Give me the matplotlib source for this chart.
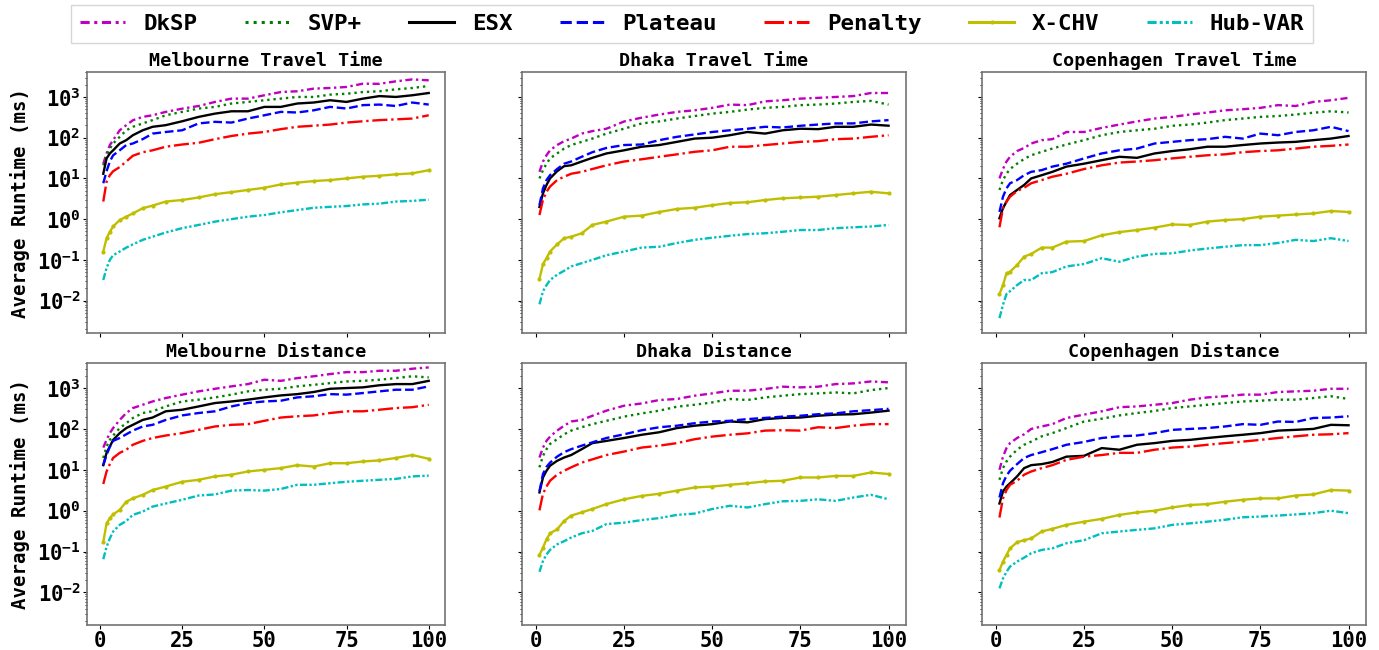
import numpy as np
import matplotlib
matplotlib.use('Agg')
import matplotlib.pyplot as plt

plt.rcParams['font.family'] = 'DejaVu Sans Mono'
plt.rcParams['font.weight'] = 'bold'
plt.rcParams['mathtext.default'] = 'regular'

# query sizes (a subset of the 1..100 points)
x_points = [1, 2, 3, 4, 6, 8, 10, 13, 16, 20, 25, 30, 35, 40, 45, 50, 55, 60, 65, 70, 75, 80, 85, 90, 95, 100]

methods = ['DkSP', 'SVP+', 'ESX', 'Plateau', 'Penalty', 'X-CHV', 'Hub-VAR']
titles = ['Melbourne Travel Time', 'Dhaka Travel Time', 'Copenhagen Travel Time',
          'Melbourne Distance', 'Dhaka Distance', 'Copenhagen Distance']

# Melbourne travel time (ms)
mel_tt_dksp = [23, 41, 66, 87, 152, 203, 268, 324, 355, 430, 516, 600, 755, 910, 910, 1100, 1320, 1380, 1600, 1660, 1760, 2120, 2100, 2420, 2700, 2560]
mel_tt_svp = [21, 37, 54, 72, 105, 152, 185, 224, 270, 355, 430, 520, 570, 690, 755, 830, 910, 1000, 1000, 1140, 1200, 1320, 1380, 1540, 1660, 1860]
mel_tt_esx = [13, 31, 41, 49, 72, 87, 115, 152, 185, 203, 253, 324, 390, 445, 445, 570, 570, 690, 730, 830, 755, 910, 1050, 1000, 1100, 1250]
mel_tt_plateau = [7.6, 15, 26, 37, 49, 66, 72, 92, 126, 138, 152, 224, 245, 235, 295, 355, 430, 415, 470, 570, 520, 630, 650, 600, 730, 650]
mel_tt_penalty = [2.7, 8.3, 12, 15, 19, 26, 36, 44, 49, 60, 68, 75, 92, 110, 126, 138, 162, 185, 197, 210, 235, 253, 270, 282, 295, 355]
mel_tt_xchv = [0.16, 0.34, 0.49, 0.66, 0.95, 1.15, 1.38, 1.85, 2.15, 2.7, 2.95, 3.4, 4.1, 4.6, 5.2, 5.9, 7.1, 7.9, 8.6, 9.1, 10, 11, 11.6, 12.6, 13.3, 15.9]
mel_tt_hub = [0.032, 0.063, 0.1, 0.13, 0.16, 0.2, 0.24, 0.31, 0.37, 0.47, 0.6, 0.72, 0.87, 1.0, 1.15, 1.26, 1.47, 1.67, 1.9, 2.0, 2.1, 2.3, 2.4, 2.7, 2.8, 3.0]

# Dhaka travel time (ms)
dha_tt_dksp = [14.5, 26, 37, 49, 66, 82, 95, 126, 145, 166, 250, 310, 370, 430, 470, 540, 650, 630, 780, 830, 910, 950, 1000, 1050, 1250, 1250]
dha_tt_svp = [10, 16, 23, 31, 41, 54, 66, 79, 95, 126, 166, 224, 251, 295, 340, 390, 430, 490, 540, 570, 630, 650, 690, 755, 800, 650]
dha_tt_esx = [2.0, 4.3, 6.9, 10, 15, 20, 21, 26, 32, 41, 49, 60, 66, 79, 95, 100, 115, 138, 126, 152, 166, 162, 185, 185, 210, 197]
dha_tt_plateau = [2.2, 5.7, 9.1, 12, 17, 23, 26, 34, 44, 56, 66, 68, 87, 105, 120, 138, 152, 166, 185, 178, 196, 210, 224, 224, 251, 270]
dha_tt_penalty = [1.26, 3.0, 4.7, 6.3, 9.1, 11, 13, 14.5, 17, 21, 26, 29.5, 34, 39, 45, 49, 60, 60, 66, 72, 79, 82, 92, 95, 105, 115]
dha_tt_xchv = [0.034, 0.079, 0.11, 0.16, 0.24, 0.34, 0.37, 0.45, 0.72, 0.87, 1.15, 1.22, 1.5, 1.78, 1.9, 2.2, 2.5, 2.6, 2.95, 3.25, 3.4, 3.55, 3.9, 4.3, 4.7, 4.3]
dha_tt_hub = [0.0081, 0.017, 0.024, 0.032, 0.043, 0.054, 0.069, 0.083, 0.1, 0.13, 0.16, 0.2, 0.21, 0.26, 0.31, 0.35, 0.39, 0.43, 0.45, 0.49, 0.54, 0.54, 0.6, 0.63, 0.66, 0.72]

# Copenhagen travel time (ms)
cph_tt_dksp = [10, 17, 26, 34, 47, 56, 72, 87, 92, 138, 138, 174, 210, 251, 295, 324, 370, 415, 470, 500, 540, 630, 600, 755, 830, 950]
cph_tt_svp = [5.2, 9.1, 13, 17, 23, 30, 37, 45, 54, 68, 87, 115, 138, 152, 166, 196, 210, 235, 270, 295, 324, 340, 370, 410, 445, 415]
cph_tt_esx = [1.05, 1.85, 2.7, 3.9, 5.2, 6.9, 10, 12, 14.5, 19.5, 23, 28, 34, 32, 41, 47, 52, 60, 60, 66, 72, 76, 79, 87, 95, 110]
cph_tt_plateau = [1.5, 3.55, 5.7, 7.6, 9.1, 12, 14.5, 16, 19.5, 23, 31, 41, 49, 54, 72, 79, 87, 92, 105, 95, 126, 115, 138, 152, 185, 145]
cph_tt_penalty = [0.63, 1.85, 2.7, 3.55, 4.9, 5.9, 7.6, 9.1, 11, 13, 17, 21, 24.5, 26, 28, 31, 34, 37, 39, 44, 47, 49, 54, 60, 63, 68]
cph_tt_xchv = [0.0145, 0.024, 0.047, 0.051, 0.075, 0.12, 0.14, 0.2, 0.2, 0.28, 0.29, 0.4, 0.48, 0.54, 0.62, 0.74, 0.72, 0.87, 0.95, 1.0, 1.15, 1.22, 1.3, 1.38, 1.58, 1.5]
cph_tt_hub = [0.0037, 0.0079, 0.0145, 0.017, 0.024, 0.032, 0.032, 0.047, 0.05, 0.069, 0.079, 0.11, 0.09, 0.12, 0.14, 0.145, 0.17, 0.19, 0.21, 0.23, 0.23, 0.26, 0.31, 0.29, 0.34, 0.29]

# Melbourne distance (ms)
mel_d_dksp = [35, 54, 79, 105, 166, 245, 324, 390, 470, 570, 690, 830, 960, 1100, 1250, 1600, 1500, 1750, 1940, 2200, 2450, 2450, 2650, 2650, 2970, 3200]
mel_d_svp = [19.5, 37, 54, 69, 105, 138, 185, 245, 270, 355, 470, 520, 590, 690, 830, 910, 960, 1100, 1200, 1320, 1450, 1500, 1600, 1750, 1940, 1820]
mel_d_esx = [13, 26, 37, 54, 79, 105, 126, 166, 190, 270, 295, 355, 430, 470, 520, 590, 660, 710, 800, 960, 1000, 1040, 1170, 1250, 1250, 1500]
mel_d_plateau = [13, 23, 37, 51, 60, 74, 91, 115, 126, 166, 214, 245, 270, 355, 430, 470, 490, 590, 630, 710, 690, 755, 830, 910, 910, 1100]
mel_d_penalty = [4.5, 9.1, 13.8, 19.5, 26, 31, 41, 51, 60, 69, 79, 95, 115, 126, 131, 158, 190, 204, 214, 245, 270, 270, 295, 324, 340, 390]
mel_d_xchv = [0.17, 0.49, 0.66, 0.81, 1.05, 1.66, 2.0, 2.45, 3.2, 3.9, 5.1, 5.7, 6.9, 7.6, 9.1, 10, 11, 13, 12, 14.5, 14.5, 16, 17, 19.5, 23, 18.6]
mel_d_hub = [0.065, 0.13, 0.21, 0.31, 0.45, 0.56, 0.79, 0.95, 1.26, 1.5, 1.85, 2.35, 2.5, 3.1, 3.2, 3.1, 3.4, 4.3, 4.3, 4.7, 5.1, 5.4, 5.7, 6.0, 6.9, 7.2]

# Dhaka distance (ms)
dha_d_dksp = [20, 35, 51, 65, 91, 120, 152, 166, 210, 280, 370, 420, 510, 540, 650, 740, 860, 860, 950, 1080, 1040, 1080, 1250, 1300, 1450, 1380]
dha_d_svp = [11.5, 22, 32, 43, 56, 74, 91, 110, 131, 158, 200, 240, 280, 350, 390, 445, 540, 510, 590, 650, 710, 740, 780, 740, 890, 1000]
dha_d_esx = [2.8, 6.5, 9.5, 12.6, 16.6, 20, 23, 32, 45, 51, 60, 72, 83, 105, 120, 131, 152, 145, 174, 186, 190, 210, 224, 229, 251, 280]
dha_d_plateau = [3.0, 7.9, 11.8, 15, 21, 27, 32, 39, 47, 60, 74, 93, 110, 120, 138, 152, 158, 174, 186, 200, 210, 229, 240, 270, 288, 310]
dha_d_penalty = [1.02, 2.6, 3.9, 5.4, 7.6, 9.5, 11.5, 15, 18, 23, 28, 35, 39, 45, 56, 65, 72, 78, 91, 93, 91, 110, 105, 120, 131, 131]
dha_d_xchv = [0.083, 0.125, 0.2, 0.28, 0.35, 0.56, 0.76, 0.91, 1.1, 1.45, 1.9, 2.3, 2.6, 3.1, 3.7, 3.9, 4.3, 4.7, 5.2, 5.4, 6.5, 6.5, 7.1, 7.1, 8.6, 7.9]
dha_d_hub = [0.032, 0.059, 0.085, 0.11, 0.15, 0.18, 0.22, 0.28, 0.32, 0.47, 0.51, 0.59, 0.66, 0.79, 0.85, 1.1, 1.32, 1.2, 1.45, 1.7, 1.74, 1.9, 1.74, 2.1, 2.45, 1.9]

# Copenhagen distance (ms)
cph_d_dksp = [10, 21, 34, 45, 60, 74, 100, 115, 131, 185, 224, 270, 340, 355, 390, 430, 520, 590, 630, 690, 690, 800, 830, 860, 960, 960]
cph_d_svp = [5.7, 11, 16, 21, 31, 41, 49, 66, 79, 105, 152, 178, 214, 245, 275, 324, 355, 390, 430, 470, 490, 520, 520, 570, 630, 540]
cph_d_esx = [1.5, 2.95, 3.9, 4.7, 6.9, 11, 13, 13.8, 15.5, 21, 22, 34, 31, 41, 45, 51, 54, 60, 66, 72, 79, 91, 95, 100, 126, 123]
cph_d_plateau = [2.1, 4.7, 7.2, 9.5, 13.8, 19.5, 23, 27, 32, 41, 48, 60, 66, 69, 79, 95, 100, 105, 115, 131, 126, 152, 148, 185, 190, 204]
cph_d_penalty = [0.68, 2.0, 3.2, 4.3, 5.4, 7.6, 9.1, 11, 13, 17.5, 21, 23, 26, 26, 31, 35, 37, 41, 45, 49, 54, 60, 66, 72, 74, 79]
cph_d_xchv = [0.035, 0.057, 0.083, 0.12, 0.17, 0.19, 0.21, 0.31, 0.36, 0.45, 0.54, 0.63, 0.79, 0.91, 1.0, 1.2, 1.38, 1.45, 1.66, 1.85, 2.0, 2.0, 2.35, 2.5, 3.2, 3.1]
cph_d_hub = [0.0126, 0.022, 0.032, 0.043, 0.057, 0.071, 0.091, 0.11, 0.12, 0.16, 0.19, 0.28, 0.31, 0.34, 0.37, 0.45, 0.49, 0.54, 0.6, 0.69, 0.72, 0.76, 0.81, 0.87, 1.0, 0.87]

panels = [
    [mel_tt_dksp, mel_tt_svp, mel_tt_esx, mel_tt_plateau, mel_tt_penalty, mel_tt_xchv, mel_tt_hub],
    [dha_tt_dksp, dha_tt_svp, dha_tt_esx, dha_tt_plateau, dha_tt_penalty, dha_tt_xchv, dha_tt_hub],
    [cph_tt_dksp, cph_tt_svp, cph_tt_esx, cph_tt_plateau, cph_tt_penalty, cph_tt_xchv, cph_tt_hub],
    [mel_d_dksp, mel_d_svp, mel_d_esx, mel_d_plateau, mel_d_penalty, mel_d_xchv, mel_d_hub],
    [dha_d_dksp, dha_d_svp, dha_d_esx, dha_d_plateau, dha_d_penalty, dha_d_xchv, dha_d_hub],
    [cph_d_dksp, cph_d_svp, cph_d_esx, cph_d_plateau, cph_d_penalty, cph_d_xchv, cph_d_hub],
]

colors = ['m', 'g', 'k', 'b', 'r', 'y', 'c']
styles = [(0, (3, 1.5, 1, 1.5)), ':', '-', '--', '-.', '-', (0, (3, 1, 1, 1, 1, 1))]
markers = [None, None, None, None, None, '.', None]

fig = plt.figure(figsize=(13.79, 6.5), dpi=100)

# axes boxes in figure fractions (left, bottom, width, height)
col_left = [87 / 1379, 522 / 1379, 982 / 1379]
col_width = [358 / 1379, 384 / 1379, 384 / 1379]
row_bottom = [1 - 333 / 650, 1 - 625 / 650]
row_height = [261 / 650, 262 / 650]

axes = []
for i in range(6):
    r, c = i // 3, i % 3
    ax = fig.add_axes([col_left[c], row_bottom[r], col_width[c], row_height[r]])
    axes.append(ax)
    for j in range(7):
        ax.plot(x_points, panels[i][j], color=colors[j], linestyle=styles[j],
                marker=markers[j], markersize=4, linewidth=1.7, label=methods[j])
    ax.set_yscale('log')
    ax.set_ylim(1.6e-3, 4.1e3)
    ax.set_xticks([0, 25, 50, 75, 100])
    ax.set_title(titles[i], fontsize=13.2, fontweight='bold', pad=4)
    ax.tick_params(axis='both', labelsize=14.8, pad=2, length=2.6)
    ax.tick_params(axis='y', which='minor', length=1.6)
    for s in ax.spines.values():
        s.set_color('0.45')
        s.set_linewidth(1.2)
    if r == 0:
        ax.tick_params(axis='x', labelbottom=False)
    if c != 0:
        ax.tick_params(axis='y', labelleft=False)
    else:
        ax.set_ylabel('Average Runtime (ms)', fontsize=13.7, fontweight='bold', labelpad=5)

handles, labels = axes[0].get_legend_handles_labels()
leg = fig.legend(handles, labels, loc='upper center', bbox_to_anchor=(0.502, 1.0),
                 ncol=7, fontsize=16.2, frameon=True, fancybox=False,
                 handlelength=2.0, columnspacing=2.1, borderaxespad=0.2)
for line in leg.get_lines():
    line.set_linewidth(2.2)

plt.savefig('out.png', dpi=100)
